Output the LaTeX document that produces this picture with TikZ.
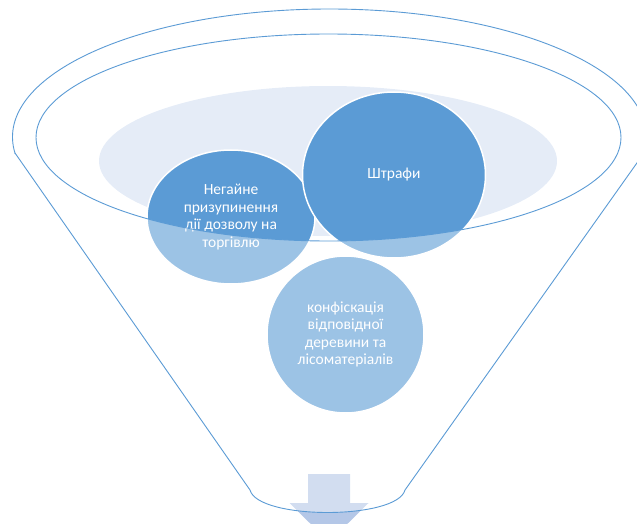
\documentclass[tikz,border=0pt]{standalone}
\usepackage{fontspec}
\setmainfont{Carlito}
\usetikzlibrary{shapes.geometric}
\definecolor{accent}{HTML}{5B9BD5}
\definecolor{liquid}{HTML}{E5ECF7}
\definecolor{arrowc}{HTML}{B4C7E7}
\tikzset{
  bubble/.style={ellipse, fill=accent, draw=white, line width=1.5pt, inner sep=0pt,
    text=white, align=center, font=\fontsize{15.5}{17.6}\selectfont},
  funnelline/.style={draw=accent, line width=0.9pt},
}
\begin{document}
\begin{tikzpicture}[x=1pt,y=-1pt]
\useasboundingbox (0,0) rectangle (637,524);
\clip (0,0) rectangle (637,524);
% liquid surface
\fill[liquid] (328,161) ellipse [x radius=229pt, y radius=75pt];
% bubbles
\node[bubble, minimum width=168pt, minimum height=134pt] (n1) at (231,217)
  {Негайне\\призупинення\\дії дозволу на\\торгівлю};
\node[bubble, minimum width=183pt, minimum height=166pt] (n2) at (394,175) {Штрафи};
\node[bubble, minimum width=157pt, minimum height=157pt] (n3) at (345.5,334.5)
  {конфіскація\\відповідної\\деревини та\\лісоматеріалів};
% arrow
\fill[arrowc] (308,474) -- (350,474) -- (350,503) -- (368.5,503) -- (329,542)
  -- (289.5,503) -- (308,503) -- cycle;
% semi-transparent funnel body
\fill[white, fill opacity=0.4, even odd rule]
  (12,0) -- (646,0) -- (644,153) -- (405,490) .. controls (397,520) and (258,520) .. (250,490)
  -- (15,153) -- cycle
  (328.5,137.5) ellipse [x radius=292.5pt, y radius=103.5pt];
% outlines
\begin{scope}
  \clip (0,0) rectangle (637,153);
  \draw[funnelline] (329.5,137) ellipse [x radius=317pt, y radius=128pt];
\end{scope}
\draw[funnelline] (15,153) -- (250,490) .. controls (258,520) and (397,520) .. (405,490) -- (644,153);
\draw[funnelline] (328.5,137.5) ellipse [x radius=292.5pt, y radius=103.5pt];
\end{tikzpicture}
\end{document}
